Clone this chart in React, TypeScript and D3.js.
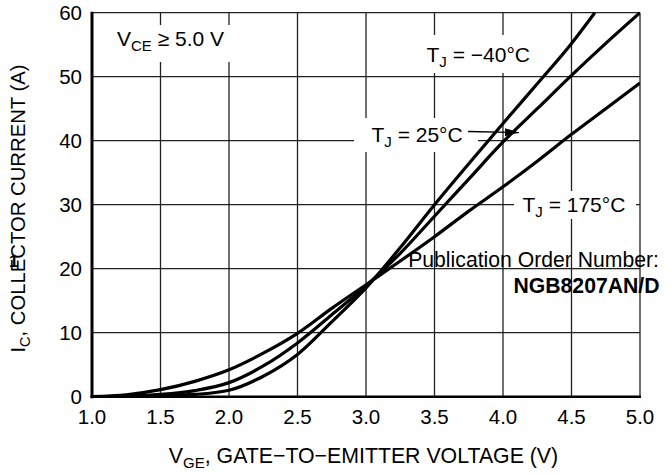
import React from "react";
import * as d3 from "d3";

const W = 672;
const H = 473;
const M = { left: 92, right: 640, top: 12.7, bottom: 396.7 };

const xTicks = [1.0, 1.5, 2.0, 2.5, 3.0, 3.5, 4.0, 4.5, 5.0];
const yTicks = [0, 10, 20, 30, 40, 50, 60];

// T_J = -40°C
const vgeM40 = [1.0, 1.25, 1.5, 1.75, 2.0, 2.25, 2.5, 2.75, 3.0, 3.25, 3.5, 3.75, 4.0, 4.25, 4.5, 4.67];
const icM40 = [0, 0.03, 0.12, 0.35, 1.0, 3.2, 6.6, 11.7, 17.0, 23.3, 30.0, 36.4, 42.7, 48.9, 55.2, 60.0];
// T_J = 25°C
const vge25 = [1.0, 1.25, 1.5, 1.75, 2.0, 2.25, 2.5, 2.75, 3.0, 3.25, 3.5, 3.75, 4.0, 4.25, 4.5, 4.75, 5.0];
const ic25 = [0, 0.08, 0.35, 0.95, 2.2, 4.8, 8.4, 12.8, 17.3, 22.4, 28.2, 34.0, 39.8, 45.0, 50.2, 55.2, 60.0];
// T_J = 175°C
const vge175 = [1.0, 1.25, 1.5, 1.75, 2.0, 2.25, 2.5, 2.75, 3.0, 3.25, 3.5, 3.75, 4.0, 4.25, 4.5, 4.75, 5.0];
const ic175 = [0, 0.3, 1.1, 2.4, 4.2, 6.8, 9.9, 13.8, 17.5, 21.2, 25.0, 29.0, 32.8, 36.8, 41.0, 45.0, 49.0];

const FONT = "'Liberation Sans', Arial, Helvetica, sans-serif";

export default function App() {
  const x = d3.scaleLinear().domain([1, 5]).range([M.left, M.right]);
  const y = d3.scaleLinear().domain([0, 60]).range([M.bottom, M.top]);
  const line = d3
    .line<[number, number]>()
    .x((d) => x(d[0]))
    .y((d) => y(d[1]))
    .curve(d3.curveMonotoneX);

  const series = [
    { v: vgeM40, i: icM40 },
    { v: vge25, i: ic25 },
    { v: vge175, i: ic175 },
  ];

  const gridStroke = "#222";
  const LF = 21;
  const SF = 15;
  return (
    <svg
      width={W}
      height={H}
      style={{ position: "absolute", left: 0, top: 0, background: "#fff" }}
      fontFamily={FONT}
    >
      <defs>
        <clipPath id="plot">
          <rect x={M.left} y={M.top - 2} width={M.right - M.left} height={M.bottom - M.top + 2} />
        </clipPath>
        <marker id="arrow" viewBox="0 0 14 8" refX="14" refY="4" markerWidth="14" markerHeight="8" markerUnits="userSpaceOnUse" orient="auto">
          <path d="M0,0 L14,4 L0,8 Z" fill="#000" />
        </marker>
      </defs>
      <rect x={0} y={0} width={W} height={H} fill="#fff" />
      {/* grid */}
      {xTicks.map((t) => (
        <line key={"gx" + t} x1={x(t)} x2={x(t)} y1={M.top} y2={M.bottom} stroke={gridStroke} strokeWidth={1.3} />
      ))}
      {yTicks.map((t) => (
        <line key={"gy" + t} x1={M.left} x2={M.right} y1={y(t)} y2={y(t)} stroke={gridStroke} strokeWidth={1.3} />
      ))}
      {/* label backgrounds */}
      <rect x={102} y={25} width={134} height={37} fill="#fff" />
      <rect x={420} y={35} width={118} height={38} fill="#fff" />
      <rect x={354} y={118} width={124} height={34} fill="#fff" />
      <rect x={514} y={191} width={122} height={28} fill="#fff" />
      {/* axes */}
      <line x1={M.left} x2={M.left} y1={M.top - 1} y2={M.bottom + 1.5} stroke="#000" strokeWidth={3} />
      <line x1={M.left - 1.5} x2={M.right + 1} y1={M.bottom} y2={M.bottom} stroke="#000" strokeWidth={2.6} />

      {/* tick labels */}
      {xTicks.map((t) => (
        <text key={"tx" + t} x={x(t)} y={423.5} fontSize={20.5} textAnchor="middle" fill="#000">
          {t.toFixed(1)}
        </text>
      ))}
      {yTicks.map((t) => (
        <text key={"ty" + t} x={82} y={y(t) + 7.3} fontSize={20.5} textAnchor="end" fill="#000">
          {t}
        </text>
      ))}

      {/* annotations */}
      <text x={117} y={46} fontSize={LF} fill="#000">
        V<tspan fontSize={SF} dy={5}>CE</tspan>
        <tspan dy={-5}> ≥ 5.0 V</tspan>
      </text>
      <text x={426.5} y={62} fontSize={LF} fill="#000">
        T<tspan fontSize={SF} dy={5}>J</tspan>
        <tspan dy={-5}> = −40°C</tspan>
      </text>
      <text x={371.5} y={141.7} fontSize={LF} fill="#000">
        T<tspan fontSize={SF} dy={5}>J</tspan>
        <tspan dy={-5}> = 25°C</tspan>
      </text>
      <line x1={468} x2={519} y1={131.5} y2={132.5} stroke="#000" strokeWidth={1.3} markerEnd="url(#arrow)" />
      <text x={522.5} y={211.7} fontSize={LF} fill="#000">
        T<tspan fontSize={SF} dy={5}>J</tspan>
        <tspan dy={-5}> = 175°C</tspan>
      </text>

      {/* curves */}
      <g clipPath="url(#plot)">
        {series.map((s, k) => (
          <path
            key={"c" + k}
            d={line(s.v.map((v, j) => [v, s.i[j]] as [number, number])) || ""}
            fill="none"
            stroke="#000"
            strokeWidth={3.2}
            strokeLinejoin="round"
          />
        ))}
      </g>

      {/* watermark */}
      <text x={659} y={266.5} fontSize={21.2} textAnchor="end" fill="#000">
        Publication Order Number:
      </text>
      <text x={659.5} y={292.7} fontSize={21.2} fontWeight="bold" textAnchor="end" fill="#000">
        NGB8207AN/D
      </text>
      <text x={9} y={267} fontSize={17} fontWeight="bold" fill="#000">
        1
      </text>

      {/* axis titles */}
      <text x={363.5} y={463} fontSize={21.3} textAnchor="middle" fill="#000">
        V<tspan fontSize={SF} dy={5}>GE</tspan>
        <tspan dy={-5}>, GATE−TO−EMITTER VOLTAGE (V)</tspan>
      </text>
      <text transform="translate(25,208.5) rotate(-90)" fontSize={20.3} textAnchor="middle" fill="#000">
        I<tspan fontSize={14.5} dy={5}>C</tspan>
        <tspan dy={-5}>, COLLECTOR CURRENT (A)</tspan>
      </text>
    </svg>
  );
}
